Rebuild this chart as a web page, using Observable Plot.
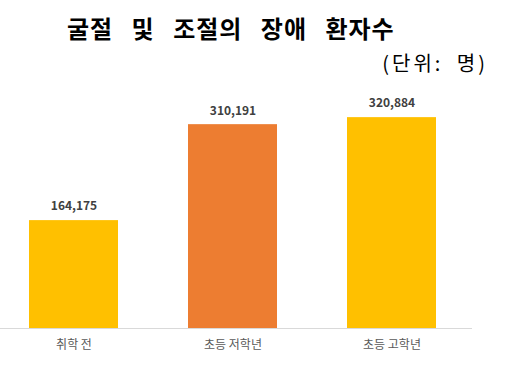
<!DOCTYPE html>
<html>
<head>
<meta charset="utf-8">
<script src="https://cdn.jsdelivr.net/npm/d3@7"></script>
<script src="https://cdn.jsdelivr.net/npm/@observablehq/plot@0.6"></script>
<style>
  body { margin: 0; background: #fff; font-family: "Noto Sans CJK KR", "Noto Sans", sans-serif; }
  #wrap { width: 508px; }
  .title { height: 56px; line-height: 56px; padding-left: 67px; font-size: 24px; font-weight: 700; color: #000; letter-spacing: 1px; word-spacing: 12px; white-space: nowrap; }
  .unit { height: 16px; line-height: 13px; text-align: right; padding-right: 20px; font-size: 20px; color: #000; letter-spacing: 3px; word-spacing: 6px; white-space: nowrap; }
</style>
</head>
<body>
<div id="wrap">
  <div class="title">굴절 및 조절의 장애 환자수</div>
  <div class="unit">(단위: 명)</div>
  <div id="chart"></div>
</div>
<script>
const categories = ["취학 전", "초등 저학년", "초등 고학년"];
const patients = [164175, 310191, 320884];
const barColors = ["#FFC000", "#ED7D31", "#FFC000"];

const data = categories.map((c, i) => ({category: c, value: patients[i], color: barColors[i]}));
const fmt = d3.format(",");

const chart = Plot.plot({
  width: 508,
  height: 296,
  marginTop: 26,
  marginBottom: 40,
  marginLeft: 0,
  marginRight: 36,
  style: {fontFamily: '"Noto Sans CJK KR", "Noto Sans", sans-serif', background: "#fff"},
  x: {domain: categories, paddingInner: 0.439, paddingOuter: 0.199, align: 0.44, label: null},
  y: {domain: [0, 350000], axis: null},
  marks: [
    Plot.barY(data, {x: "category", y: "value", fill: "color"}),
    Plot.ruleY([0], {stroke: "#D9D9D9", strokeWidth: 1}),
    Plot.text(data, {x: "category", y: "value", text: d => fmt(d.value), dy: -14, lineAnchor: "middle", fontSize: 12, fontWeight: "bold", fill: "#404040"}),
    Plot.axisX({tickSize: 0, tickPadding: 12, fontSize: 12, color: "#595959", label: null})
  ]
});
document.getElementById("chart").appendChild(chart);
</script>
</body>
</html>
